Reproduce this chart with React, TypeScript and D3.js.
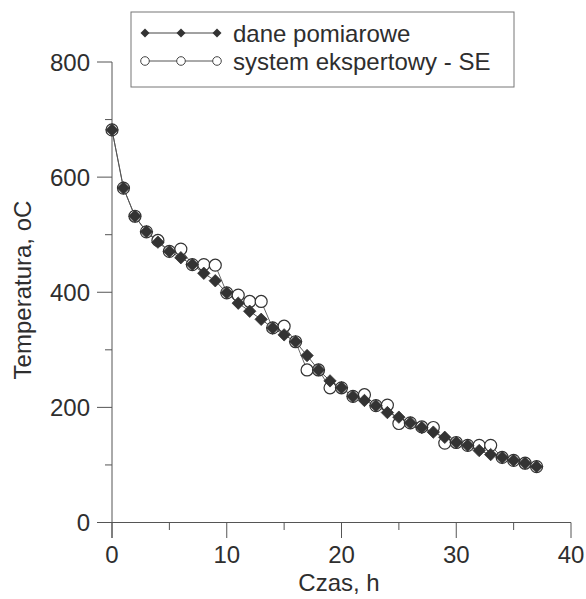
import React from "react";
import * as d3 from "d3";

const hours = d3.range(0, 38);
const measured = [682, 581, 532, 505, 487, 471, 460, 448, 433, 420, 399, 381, 367, 353, 338, 326, 314, 290, 265, 246, 234, 219, 212, 203, 191, 183, 173, 165, 157, 148, 139, 134, 125, 118, 113, 108, 103, 97];
const expert = [682, 581, 532, 505, 490, 471, 475, 448, 448, 447, 399, 395, 384, 384, 338, 341, 314, 265, 265, 234, 234, 219, 222, 203, 204, 172, 173, 166, 165, 138, 139, 134, 134, 134, 113, 108, 103, 97];
const xTicks = [0, 10, 20, 30, 40];
const xMinor = [5, 15, 25, 35];
const yTicks = [0, 200, 400, 600, 800];
const yMinor = [100, 300, 500, 700];
const seriesNames = ["dane pomiarowe", "system ekspertowy - SE"];

const W = 586, H = 599;
const FONT = "'Liberation Sans', Arial, sans-serif";
const INK = "#2e2e2e";

const diamondPath = (cx: number, cy: number, r: number) =>
  `M${cx},${cy - r}L${cx + r},${cy}L${cx},${cy + r}L${cx - r},${cy}Z`;

export default function App() {
  const x = d3.scaleLinear().domain([0, 40]).range([112, 571]);
  const y = d3.scaleLinear().domain([0, 800]).range([522.5, 62]);
  const lineM = d3.line<number>().x((_, i) => x(hours[i])).y((d) => y(d));
  const lineE = d3.line<number>().x((_, i) => x(hours[i])).y((d) => y(d));

  const legX = 131, legY = 12, legW = 383, legH = 75;
  const legRows = [33, 61];
  const legMarks = [145, 181, 217];

  return (
    <svg width={W} height={H} style={{ position: "absolute", left: 0, top: 0, background: "#fff" }} fontFamily={FONT}>
      <rect x={0} y={0} width={W} height={H} fill="#fff" />
      {/* axes */}
      <line x1={97} x2={x(40)} y1={y(0)} y2={y(0)} stroke="#555" strokeWidth={1} />
      <line x1={x(0)} x2={x(0)} y1={y(800)} y2={538} stroke="#555" strokeWidth={1} />
      {xTicks.map((t) => (
        <g key={"xt" + t}>
          <line x1={x(t)} x2={x(t)} y1={y(0)} y2={538} stroke="#555" />
          <text x={x(t)} y={563} textAnchor="middle" fontSize={24} fill={INK}>{t}</text>
        </g>
      ))}
      {xMinor.map((t) => (
        <line key={"xm" + t} x1={x(t)} x2={x(t)} y1={y(0)} y2={530} stroke="#555" />
      ))}
      {yTicks.map((t) => (
        <g key={"yt" + t}>
          <line x1={97} x2={x(0)} y1={y(t)} y2={y(t)} stroke="#555" />
          <text x={90} y={y(t) + 8.5} textAnchor="end" fontSize={24} fill={INK}>{t}</text>
        </g>
      ))}
      {yMinor.map((t) => (
        <line key={"ym" + t} x1={105} x2={x(0)} y1={y(t)} y2={y(t)} stroke="#555" />
      ))}
      <text x={339} y={591} textAnchor="middle" fontSize={24} fill={INK}>Czas, h</text>
      <text transform="translate(31,290) rotate(-90)" textAnchor="middle" fontSize={24} fill={INK}>Temperatura, oC</text>

      {/* series lines */}
      <path d={lineE(expert) || ""} fill="none" stroke="#666" strokeWidth={1} />
      <path d={lineM(measured) || ""} fill="none" stroke="#555" strokeWidth={1} />
      {expert.map((v, i) => (
        <circle key={"c" + i} cx={x(hours[i])} cy={y(v)} r={6} fill="#fff" stroke="#333" strokeWidth={1.2} />
      ))}
      {measured.map((v, i) => (
        <path key={"d" + i} d={diamondPath(x(hours[i]), y(v), 6.2)} fill="#333" stroke="#333" strokeWidth={0.8} />
      ))}

      {/* legend */}
      <rect x={legX} y={legY} width={legW} height={legH} fill="#fff" stroke="#777" strokeWidth={1} />
      <line x1={legMarks[0]} x2={legMarks[2]} y1={legRows[0]} y2={legRows[0]} stroke="#444" />
      {legMarks.map((m) => (
        <path key={"ld" + m} d={diamondPath(m, legRows[0], 4.5)} fill="#333" />
      ))}
      <line x1={legMarks[0]} x2={legMarks[2]} y1={legRows[1]} y2={legRows[1]} stroke="#555" />
      {legMarks.map((m) => (
        <circle key={"lc" + m} cx={m} cy={legRows[1]} r={4.3} fill="#fff" stroke="#444" strokeWidth={1} />
      ))}
      <text x={233} y={legRows[0] + 8.5} fontSize={24} fill={INK}>{seriesNames[0]}</text>
      <text x={233} y={legRows[1] + 8.5} fontSize={24} fill={INK}>{seriesNames[1]}</text>
    </svg>
  );
}
